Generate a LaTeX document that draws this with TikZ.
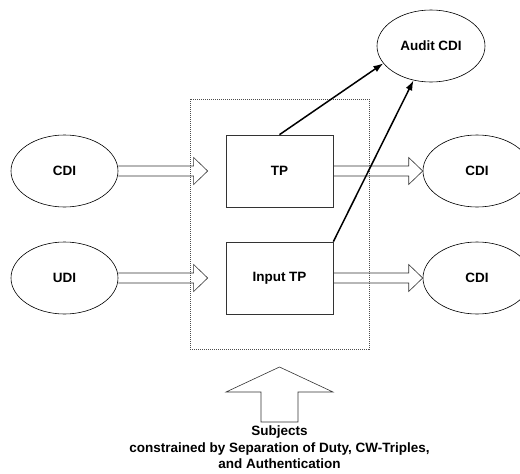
\documentclass[tikz,border=0pt]{standalone}
\usepackage{fontspec}
\setmainfont{Liberation Sans}
\usetikzlibrary{shapes.geometric,arrows.meta,calc}
\tikzset{
  ell/.style={ellipse,draw=black,line width=0.6pt,minimum width=107pt,minimum height=72pt,inner sep=0pt,font=\fontsize{13.5}{16.5}\selectfont\bfseries},
  tpbox/.style={rectangle,draw=black!80,line width=0.7pt,minimum width=107pt,minimum height=72pt,inner sep=0pt,font=\fontsize{13.5}{16.5}\selectfont\bfseries},
  frame/.style={rectangle,draw=black!70,line width=0.6pt,dash pattern=on 1pt off 1pt,minimum width=179pt,minimum height=250pt,inner sep=0pt},
  hollow/.style={draw=black!80,line width=0.6pt,line join=miter},
  flow/.style={line width=1.5pt,-{Latex[length=10pt,width=7pt]}},
  caption/.style={align=center,font=\fontsize{13.5}{16.5}\selectfont\bfseries,inner sep=0pt}
}
\newcommand\harrow[2]{\draw[hollow] let \p1=(#1), \p2=(#2) in
  (\x1,\y1-5pt) -- (\x2-14pt,\y1-5pt) -- (\x2-14pt,\y1-13.5pt) -- (\x2,\y1)
  -- (\x2-14pt,\y1+13.5pt) -- (\x2-14pt,\y1+5pt) -- (\x1,\y1+5pt);}
\begin{document}
\begin{tikzpicture}[x=1pt,y=-1pt]
\useasboundingbox (0,0) rectangle (520,474);
\node[frame] (fr) at (279.5,224) {};
\node[ell,minimum width=108pt] (audit) at (431,46) {Audit CDI};
\node[ell] (cdiL) at (64.5,171) {CDI};
\node[ell] (udi) at (64.5,278) {UDI};
\node[ell,minimum width=108pt] (cdiR1) at (477,171) {CDI};
\node[ell,minimum width=108pt] (cdiR2) at (477,278) {CDI};
\node[tpbox] (tp) at (279.5,171) {TP};
\node[tpbox] (itp) at (279.5,278) {Input TP};
\coordinate (inA) at ($(tp.west)+(-18,0)$);
\coordinate (inB) at ($(itp.west)+(-18,0)$);
\harrow{cdiL.east}{inA}
\harrow{udi.east}{inB}
\harrow{tp.east}{cdiR1.west}
\harrow{itp.east}{cdiR2.west}
\draw[flow] (tp.north) -- (audit.200);
\draw[flow] (itp.north east) -- (audit.243);
\coordinate (up) at (279.5,367);
\draw[hollow] (up) -- ($(up)+(53.5,25)$) -- ($(up)+(18.5,25)$) -- ($(up)+(18.5,55)$)
  -- ($(up)+(-18.5,55)$) -- ($(up)+(-18.5,25)$) -- ($(up)+(-53.5,25)$) -- cycle;
\node[caption,anchor=north] (subj) at (279.5,426) {Subjects\\constrained by Separation of Duty, CW-Triples,\\and Authentication};
\end{tikzpicture}
\end{document}
